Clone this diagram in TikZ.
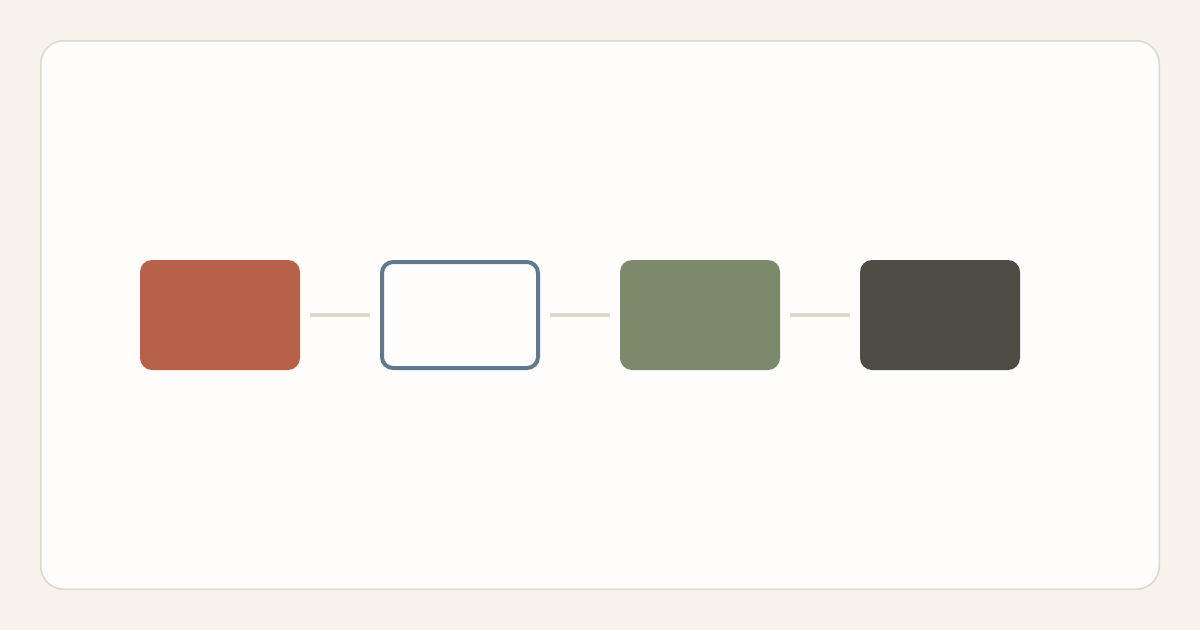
\documentclass[tikz,border=0pt]{standalone}
\usepackage{tikz}
\usetikzlibrary{positioning}

\definecolor{pagebg}{HTML}{F7F2EC}
\definecolor{cardbg}{HTML}{FEFDFB}
\definecolor{rulegray}{HTML}{DDD8CC}
\definecolor{rust}{HTML}{B8614A}
\definecolor{slate}{HTML}{5F7A8C}
\definecolor{sage}{HTML}{7A8A6A}
\definecolor{charcoal}{HTML}{4F4C44}

\begin{document}
\begin{tikzpicture}[
      x=1pt, y=-1pt,
      box/.style={rectangle, minimum width=160pt, minimum height=110pt, rounded corners=12pt, inner sep=0pt, outer sep=0pt},
      link/.style={draw=rulegray, line width=4pt},
      node distance=80pt
    ]

    % page and card
    \fill[pagebg] (0,0) rectangle (1200,630);
    \draw[fill=cardbg, draw=rulegray, line width=1.5pt, rounded corners=23pt] (40.75,40.75) rectangle (1159.25,589.25);

    \node[box, fill=rust, anchor=north west] (first) at (140,260) {};
    \node[box, draw=slate, line width=4pt, fill=cardbg, minimum width=156pt, minimum height=106pt, rounded corners=11pt, outer sep=2pt, right=of first] (second) {};
    \node[box, fill=sage, right=of second] (third) {};
    \node[box, fill=charcoal, right=of third] (fourth) {};

    \draw[link] ([xshift=10pt]first.east) -- ([xshift=-10pt]second.west);
    \draw[link] ([xshift=10pt]second.east) -- ([xshift=-10pt]third.west);
    \draw[link] ([xshift=10pt]third.east) -- ([xshift=-10pt]fourth.west);

    \useasboundingbox (0,0) rectangle (1200,630);
    \end{tikzpicture}
\end{document}
